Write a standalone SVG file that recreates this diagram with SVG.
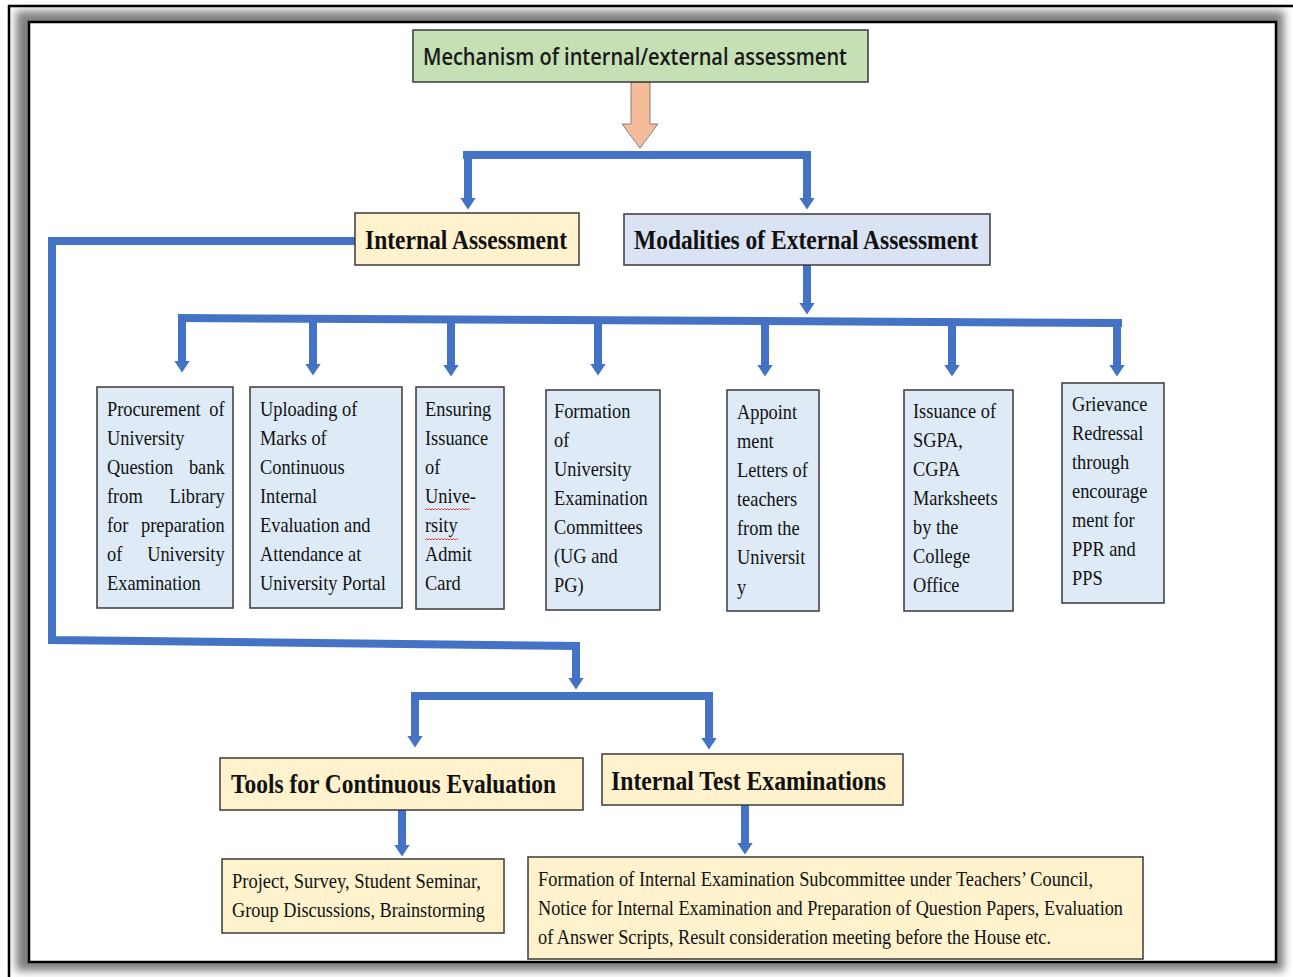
<svg xmlns="http://www.w3.org/2000/svg" width="1293" height="977" viewBox="0 0 1293 977">
<style>
.bx{stroke:#3a3a3a;stroke-width:1.5}
.sb{fill:#deebf7}
.yb{fill:#fff2cc}
.c{stroke:#4472c4;stroke-width:8;fill:none}
.bt{font-family:"Liberation Serif","Times New Roman",serif;font-size:22px;fill:#111}
.rt{font-family:"Liberation Serif","Times New Roman",serif;font-size:21px;fill:#111}
.hd{font-family:"Liberation Serif","Times New Roman",serif;font-size:27px;font-weight:bold;fill:#111}
.sq{stroke:#e03c31;stroke-width:1;fill:none}
</style>
<defs>
<filter id="sh" x="-5%" y="-5%" width="110%" height="110%"><feGaussianBlur stdDeviation="4"/></filter>
<marker id="ah" markerUnits="userSpaceOnUse" markerWidth="12" markerHeight="16" viewBox="0 0 12 16" refX="0.5" refY="8" orient="auto"><path d="M0,0 L12,8 L0,16 z" fill="#4472c4"/></marker>
</defs>
<rect x="0" y="0" width="1293" height="977" fill="#fff"/>
<g id="frame">
<rect x="16" y="11" width="1268" height="960" fill="#808080" filter="url(#sh)"/>
<rect x="29" y="22" width="1247" height="940" fill="#fff" stroke="#000" stroke-width="2.5"/>
<path d="M9,977 V6 H1293" fill="none" stroke="#000" stroke-width="2.5"/>
</g>

<g id="connectors">
<polygon points="631,82 650,82 650,124 658,124 640,148 622,124 631,124" fill="#f4bc98" stroke="#808080" stroke-width="1"/>
<path class="c" d="M463,155 H811"/>
<path class="c" d="M468,151 V198" marker-end="url(#ah)"/>
<path class="c" d="M807,151 V198" marker-end="url(#ah)"/>
<path class="c" d="M807,265 V303" marker-end="url(#ah)"/>
<path class="c" d="M178,318 L1122,323"/>
<path class="c" d="M182,318 V361" marker-end="url(#ah)"/>
<path class="c" d="M313,318 V364" marker-end="url(#ah)"/>
<path class="c" d="M451,319 V365" marker-end="url(#ah)"/>
<path class="c" d="M598,320 V364" marker-end="url(#ah)"/>
<path class="c" d="M765,321 V365" marker-end="url(#ah)"/>
<path class="c" d="M952,322 V365" marker-end="url(#ah)"/>
<path class="c" d="M1117,322 V365" marker-end="url(#ah)"/>
<path class="c" d="M355,241 H52 V640 L580,646"/>
<path class="c" d="M576,645 V678" marker-end="url(#ah)"/>
<path class="c" d="M413,696 H713"/>
<path class="c" d="M415,692 V736" marker-end="url(#ah)"/>
<path class="c" d="M709,692 V738" marker-end="url(#ah)"/>
<path class="c" d="M402,810 V845" marker-end="url(#ah)"/>
<path class="c" d="M745,805 V843" marker-end="url(#ah)"/>
</g>

<g id="n-title">
<rect x="413" y="30" width="455" height="52" fill="#c5e0b4" class="bx"/>
<text x="423" y="65" textLength="424" lengthAdjust="spacingAndGlyphs" style="font-family:'Open Sans','Noto Sans',sans-serif;font-size:24px;font-weight:600;fill:#1a1a1a">Mechanism of internal/external assessment</text>
</g>

<g id="n-internal">
<rect x="355" y="213" width="224" height="52" class="bx yb"/>
<text x="365" y="249" class="hd" textLength="202" lengthAdjust="spacingAndGlyphs">Internal Assessment</text>
</g>

<g id="n-external">
<rect x="624" y="214" width="366" height="51" class="bx" fill="#dae3f3"/>
<text x="634" y="249" class="hd" textLength="344" lengthAdjust="spacingAndGlyphs">Modalities of External Assessment</text>
</g>

<g id="n-procurement">
<rect x="97" y="387" width="136" height="221" class="bx sb"/>
<g transform="translate(107,0) scale(0.834,1)">
<text class="bt" x="0" y="416">Procurement</text><text class="bt" x="141" y="416" text-anchor="end">of</text>
<text class="bt" x="0" y="445">University</text>
<text class="bt" x="0" y="474">Question</text><text class="bt" x="141" y="474" text-anchor="end">bank</text>
<text class="bt" x="0" y="503">from</text><text class="bt" x="141" y="503" text-anchor="end">Library</text>
<text class="bt" x="0" y="532">for</text><text class="bt" x="141" y="532" text-anchor="end">preparation</text>
<text class="bt" x="0" y="561">of</text><text class="bt" x="141" y="561" text-anchor="end">University</text>
<text class="bt" x="0" y="590">Examination</text>
</g>
</g>

<g id="n-uploading">
<rect x="250" y="387" width="152" height="221" class="bx sb"/>
<text class="bt" transform="translate(260,0) scale(0.834,1)"><tspan x="0" y="416">Uploading of</tspan><tspan x="0" y="445">Marks of</tspan><tspan x="0" y="474">Continuous</tspan><tspan x="0" y="503">Internal</tspan><tspan x="0" y="532">Evaluation and</tspan><tspan x="0" y="561">Attendance at</tspan><tspan x="0" y="590">University Portal</tspan></text>
</g>

<g id="n-admit">
<rect x="416" y="387" width="88" height="222" class="bx sb"/>
<text class="bt" transform="translate(425,0) scale(0.834,1)"><tspan x="0" y="416">Ensuring</tspan><tspan x="0" y="445">Issuance</tspan><tspan x="0" y="474">of</tspan><tspan x="0" y="503">Unive-</tspan><tspan x="0" y="532">rsity</tspan><tspan x="0" y="561">Admit</tspan><tspan x="0" y="590">Card</tspan></text>
<path class="sq" d="M425,510 l1.5,-1.5 l1.5,1.5 l1.5,-1.5 l1.5,1.5 l1.5,-1.5 l1.5,1.5 l1.5,-1.5 l1.5,1.5 l1.5,-1.5 l1.5,1.5 l1.5,-1.5 l1.5,1.5 l1.5,-1.5 l1.5,1.5 l1.5,-1.5 l1.5,1.5 l1.5,-1.5 l1.5,1.5 l1.5,-1.5 l1.5,1.5 l1.5,-1.5 l1.5,1.5 l1.5,-1.5 l1.5,1.5 l1.5,-1.5 l1.5,1.5 l1.5,-1.5 l1.5,1.5 l1.5,-1.5 l1.5,1.5"/>
<path class="sq" d="M425,540 l1.5,-1.5 l1.5,1.5 l1.5,-1.5 l1.5,1.5 l1.5,-1.5 l1.5,1.5 l1.5,-1.5 l1.5,1.5 l1.5,-1.5 l1.5,1.5 l1.5,-1.5 l1.5,1.5 l1.5,-1.5 l1.5,1.5 l1.5,-1.5 l1.5,1.5 l1.5,-1.5 l1.5,1.5 l1.5,-1.5 l1.5,1.5 l1.5,-1.5 l1.5,1.5"/>
</g>

<g id="n-committees">
<rect x="546" y="390" width="114" height="220" class="bx sb"/>
<text class="bt" transform="translate(554,0) scale(0.834,1)"><tspan x="0" y="418">Formation</tspan><tspan x="0" y="447">of</tspan><tspan x="0" y="476">University</tspan><tspan x="0" y="505">Examination</tspan><tspan x="0" y="534">Committees</tspan><tspan x="0" y="563">(UG and</tspan><tspan x="0" y="592">PG)</tspan></text>
</g>

<g id="n-appointment">
<rect x="727" y="390" width="92" height="221" class="bx sb"/>
<text class="bt" transform="translate(737,0) scale(0.834,1)"><tspan x="0" y="419">Appoint</tspan><tspan x="0" y="448">ment</tspan><tspan x="0" y="477">Letters of</tspan><tspan x="0" y="506">teachers</tspan><tspan x="0" y="535">from the</tspan><tspan x="0" y="564">Universit</tspan><tspan x="0" y="594">y</tspan></text>
</g>

<g id="n-sgpa">
<rect x="904" y="390" width="109" height="221" class="bx sb"/>
<text class="bt" transform="translate(913,0) scale(0.834,1)"><tspan x="0" y="418">Issuance of</tspan><tspan x="0" y="447">SGPA,</tspan><tspan x="0" y="476">CGPA</tspan><tspan x="0" y="505">Marksheets</tspan><tspan x="0" y="534">by the</tspan><tspan x="0" y="563">College</tspan><tspan x="0" y="592">Office</tspan></text>
</g>

<g id="n-grievance">
<rect x="1062" y="383" width="102" height="220" class="bx sb"/>
<text class="bt" transform="translate(1072,0) scale(0.834,1)"><tspan x="0" y="411">Grievance</tspan><tspan x="0" y="440">Redressal</tspan><tspan x="0" y="469">through</tspan><tspan x="0" y="498">encourage</tspan><tspan x="0" y="527">ment for</tspan><tspan x="0" y="556">PPR and</tspan><tspan x="0" y="585">PPS</tspan></text>
</g>

<g id="n-tools">
<rect x="220" y="758" width="363" height="52" class="bx yb"/>
<text x="231" y="793" class="hd" textLength="325" lengthAdjust="spacingAndGlyphs">Tools for Continuous Evaluation</text>
</g>

<g id="n-tests">
<rect x="602" y="754" width="301" height="51" class="bx yb"/>
<text x="611" y="790" class="hd" textLength="275" lengthAdjust="spacingAndGlyphs">Internal Test Examinations</text>
</g>

<g id="n-project">
<rect x="222" y="859" width="282" height="74" class="bx yb"/>
<text x="232" y="888" class="rt" textLength="249" lengthAdjust="spacingAndGlyphs">Project, Survey, Student Seminar,</text>
<text x="232" y="917" class="rt" textLength="253" lengthAdjust="spacingAndGlyphs">Group Discussions, Brainstorming</text>
</g>

<g id="n-formation">
<rect x="528" y="857" width="615" height="102" class="bx yb"/>
<text x="538" y="886" class="rt" textLength="555" lengthAdjust="spacingAndGlyphs">Formation of Internal Examination Subcommittee under Teachers’ Council,</text>
<text x="538" y="915" class="rt" textLength="585" lengthAdjust="spacingAndGlyphs">Notice for Internal Examination and Preparation of Question Papers, Evaluation</text>
<text x="538" y="944" class="rt" textLength="513" lengthAdjust="spacingAndGlyphs">of Answer Scripts, Result consideration meeting before the House etc.</text>
</g>
</svg>
